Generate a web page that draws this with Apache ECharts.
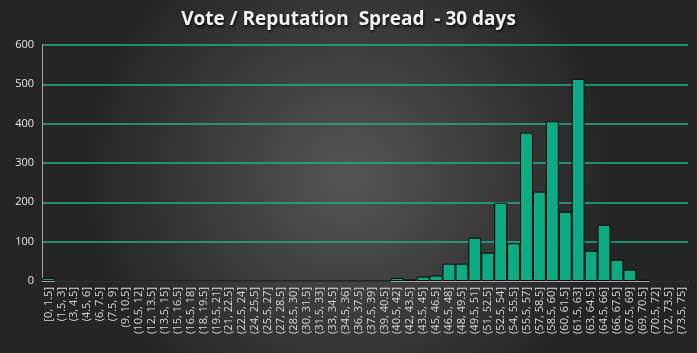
<!DOCTYPE html>
<html>
<head>
<meta charset="utf-8">
<script src="https://cdn.jsdelivr.net/npm/echarts@6/dist/echarts.min.js"></script>
<style>
html,body{margin:0;padding:0;background:#262626;}
#chart{width:697px;height:353px;}
</style>
</head>
<body>
<div id="chart"></div>
<script>
const titleText = 'Vote / Reputation  Spread  - 30 days';
const categories = ['[0, 1.5]','(1.5, 3]','(3, 4.5]','(4.5, 6]','(6, 7.5]','(7.5, 9]','(9, 10.5]','(10.5, 12]','(12, 13.5]','(13.5, 15]','(15, 16.5]','(16.5, 18]','(18, 19.5]','(19.5, 21]','(21, 22.5]','(22.5, 24]','(24, 25.5]','(25.5, 27]','(27, 28.5]','(28.5, 30]','(30, 31.5]','(31.5, 33]','(33, 34.5]','(34.5, 36]','(36, 37.5]','(37.5, 39]','(39, 40.5]','(40.5, 42]','(42, 43.5]','(43.5, 45]','(45, 46.5]','(46.5, 48]','(48, 49.5]','(49.5, 51]','(51, 52.5]','(52.5, 54]','(54, 55.5]','(55.5, 57]','(57, 58.5]','(58.5, 60]','(60, 61.5]','(61.5, 63]','(63, 64.5]','(64.5, 66]','(66, 67.5]','(67.5, 69]','(69, 70.5]','(70.5, 72]','(72, 73.5]','(73.5, 75]'];
const counts = [8,0,0,0,0,0,0,0,0,0,0,0,0,0,0,0,0,0,0,0,0,0,0,0,0,0,0,8,4,11,14,44,44,110,72,199,96,377,227,406,176,514,77,143,54,29,3,0,0,0];
const yTicks = {min:0, max:600, interval:100};

const chart = echarts.init(document.getElementById('chart'));
chart.setOption({
  animation:false,
  backgroundColor:'#262626',
  graphic:[{
    type:'rect', z:-10, silent:true,
    shape:{x:0,y:0,width:697,height:353},
    style:{fill:new echarts.graphic.RadialGradient(0.5,0.5,0.75,[
      {offset:0,color:'#555555'},{offset:1,color:'#252525'}])}
  }],
  title:{
    text:titleText, left:'center', top:5,
    textStyle:{color:'#f2f2f2', fontFamily:'Open Sans', fontWeight:'bold', fontSize:19,
      textShadowColor:'rgba(0,0,0,0.8)', textShadowBlur:3, textShadowOffsetX:1, textShadowOffsetY:2}
  },
  grid:{left:42, right:9, top:45, bottom:72},
  xAxis:{
    type:'category', data:categories,
    axisLine:{lineStyle:{color:'#a6a6a6', width:1}},
    axisTick:{show:false},
    axisLabel:{rotate:90, interval:0, color:'#d9d9d9', fontSize:11, fontFamily:'Open Sans', margin:6}
  },
  yAxis:{
    type:'value', min:yTicks.min, max:yTicks.max, interval:yTicks.interval,
    axisLine:{show:true, lineStyle:{color:'#a6a6a6'}},
    axisTick:{show:false},
    axisLabel:{color:'#e6e6e6', fontSize:11, fontFamily:'Open Sans', margin:8},
    splitLine:{lineStyle:{color:'#22b08c', width:1.5}}
  },
  series:[{
    type:'bar', data:counts, barCategoryGap:'0%',
    itemStyle:{color:'#0eaa84', borderColor:'#0a0a0a', borderWidth:1}
  }]
});
</script>
</body>
</html>
